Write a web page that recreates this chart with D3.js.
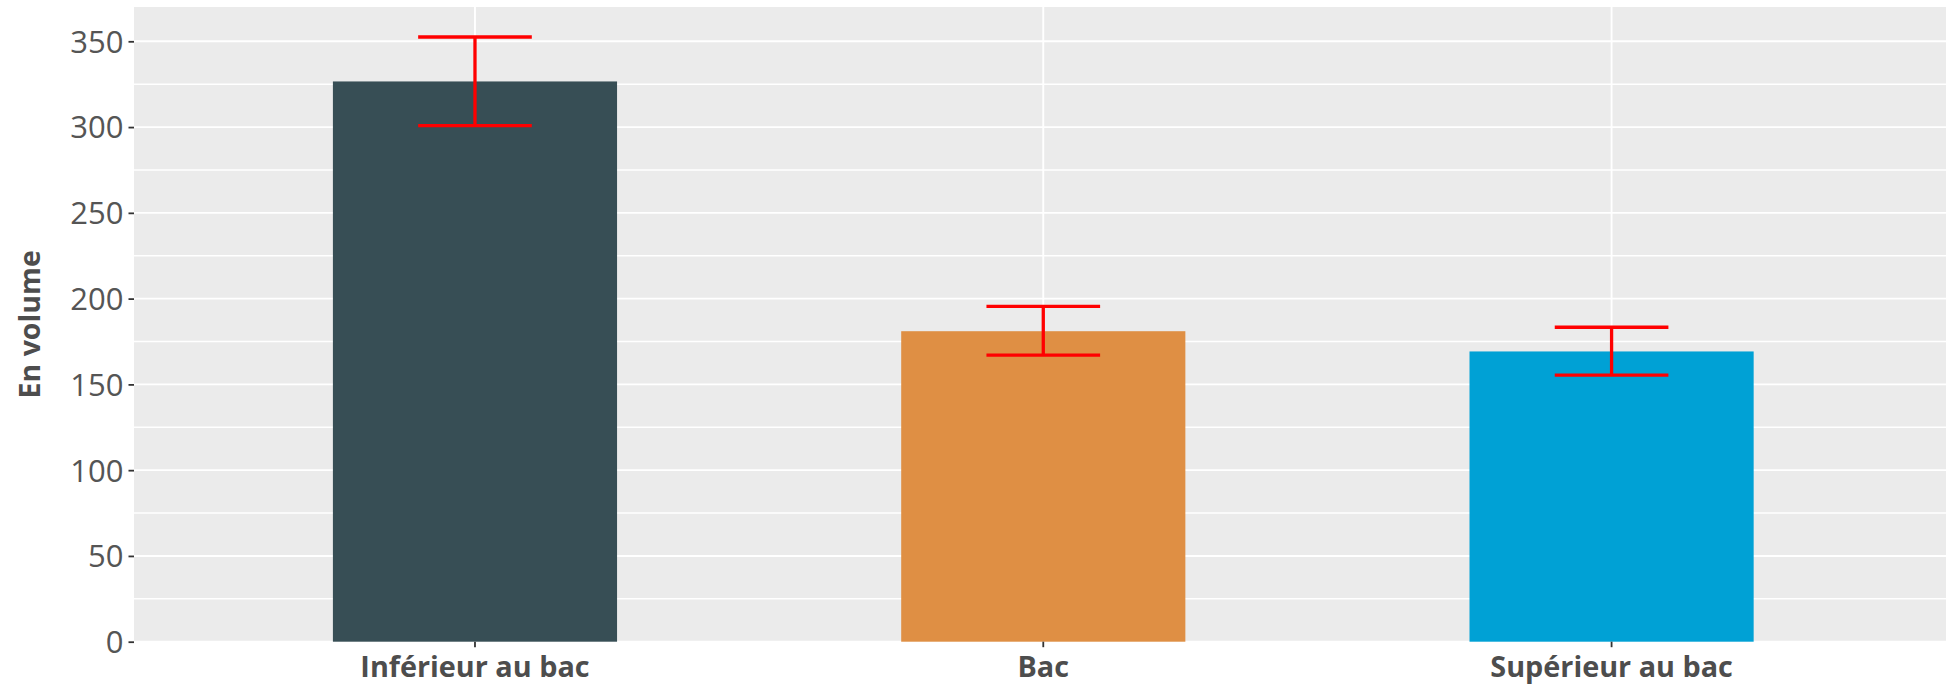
<!DOCTYPE html>
<html>
<head>
<meta charset="utf-8">
<script src="https://cdn.jsdelivr.net/npm/d3@7"></script>
<style>
  html, body { margin: 0; padding: 0; background: #ffffff; }
  svg { display: block; }
</style>
</head>
<body>
<svg id="chart" width="1946" height="684"></svg>
<script>
// ---- data ----
const categories = ["Inférieur au bac", "Bac", "Supérieur au bac"];
const values = [326.6, 181.0, 169.2];
const lowerBounds = [300.8, 167.1, 155.4];
const upperBounds = [352.5, 195.5, 183.3];
const barColors = ["#374E55", "#DF8F44", "#00A1D5"];
const yTicks = [0, 50, 100, 150, 200, 250, 300, 350];
const yMinorTicks = [25, 75, 125, 175, 225, 275, 325];
const yTitle = "En volume";

// ---- layout ----
const W = 1946, H = 684;
const panel = { left: 134, top: 7, bottom: 641.7 };
const step = 568.3;
const panelRight = panel.left + step * 3.2;

const svg = d3.select("#chart");

const x = d3.scaleBand()
  .domain(categories)
  .range([panel.left, panelRight])
  .paddingInner(0.5)
  .paddingOuter(0.35);

const y = d3.scaleLinear()
  .domain([0, 370])
  .range([panel.bottom, panel.top]);

const rows = categories.map((c, i) => ({
  cat: c, value: values[i], lo: lowerBounds[i], hi: upperBounds[i], color: barColors[i]
}));

// panel background
svg.append("rect")
  .attr("x", panel.left).attr("y", panel.top)
  .attr("width", panelRight - panel.left)
  .attr("height", panel.bottom - panel.top)
  .attr("fill", "#EBEBEB");

const grid = svg.append("g");
// minor horizontal grid
grid.selectAll("line.minor").data(yMinorTicks).join("line")
  .attr("x1", panel.left).attr("x2", panelRight)
  .attr("y1", d => y(d)).attr("y2", d => y(d))
  .attr("stroke", "#ffffff").attr("stroke-width", 1.6);
// major horizontal grid
grid.selectAll("line.major").data(yTicks).join("line")
  .attr("x1", panel.left).attr("x2", panelRight)
  .attr("y1", d => y(d)).attr("y2", d => y(d))
  .attr("stroke", "#ffffff").attr("stroke-width", 1.9);
// vertical grid at categories
grid.selectAll("line.vx").data(categories).join("line")
  .attr("x1", d => x(d) + x.bandwidth() / 2).attr("x2", d => x(d) + x.bandwidth() / 2)
  .attr("y1", panel.top).attr("y2", panel.bottom)
  .attr("stroke", "#ffffff").attr("stroke-width", 1.9);

// bars
svg.append("g").selectAll("rect").data(rows).join("rect")
  .attr("x", d => x(d.cat))
  .attr("width", x.bandwidth())
  .attr("y", d => y(d.value))
  .attr("height", d => y(0) - y(d.value))
  .attr("fill", d => d.color);

// error bars
const whisker = step * 0.1;
const eb = svg.append("g").attr("stroke", "#FF0000").attr("stroke-width", 3.3).attr("fill", "none");
rows.forEach(d => {
  const cx = x(d.cat) + x.bandwidth() / 2;
  eb.append("line").attr("x1", cx).attr("x2", cx).attr("y1", y(d.hi)).attr("y2", y(d.lo));
  eb.append("line").attr("x1", cx - whisker).attr("x2", cx + whisker).attr("y1", y(d.hi)).attr("y2", y(d.hi));
  eb.append("line").attr("x1", cx - whisker).attr("x2", cx + whisker).attr("y1", y(d.lo)).attr("y2", y(d.lo));
});

// y axis
const yAxis = svg.append("g")
  .attr("transform", `translate(${panel.left},0)`)
  .call(d3.axisLeft(y).tickValues(yTicks).tickSize(5.5).tickPadding(5).tickFormat(d3.format("d")));
yAxis.select(".domain").remove();
yAxis.selectAll(".tick line").attr("stroke", "#333333").attr("stroke-width", 1.8);
yAxis.selectAll(".tick text")
  .attr("fill", "#555555")
  .attr("font-family", "'Open Sans', sans-serif")
  .attr("font-size", 31)
  .attr("dy", "0.35em");

// x axis
const xAxis = svg.append("g")
  .attr("transform", `translate(0,${panel.bottom})`)
  .call(d3.axisBottom(x).tickSize(5.5).tickPadding(5));
xAxis.select(".domain").remove();
xAxis.selectAll(".tick line").attr("stroke", "#333333").attr("stroke-width", 1.8);
xAxis.selectAll(".tick text")
  .attr("fill", "#4D4D4D")
  .attr("font-family", "'Open Sans', sans-serif")
  .attr("font-weight", "bold")
  .attr("font-size", 28.8)
  .attr("y", 35)
  .attr("dy", 0);

// y title
svg.append("text")
  .attr("transform", `translate(40, ${(panel.top + panel.bottom) / 2}) rotate(-90)`)
  .attr("text-anchor", "middle")
  .attr("fill", "#4D4D4D")
  .attr("font-family", "'Open Sans', sans-serif")
  .attr("font-weight", "bold")
  .attr("font-size", 28.5)
  .text(yTitle);
</script>
</body>
</html>
